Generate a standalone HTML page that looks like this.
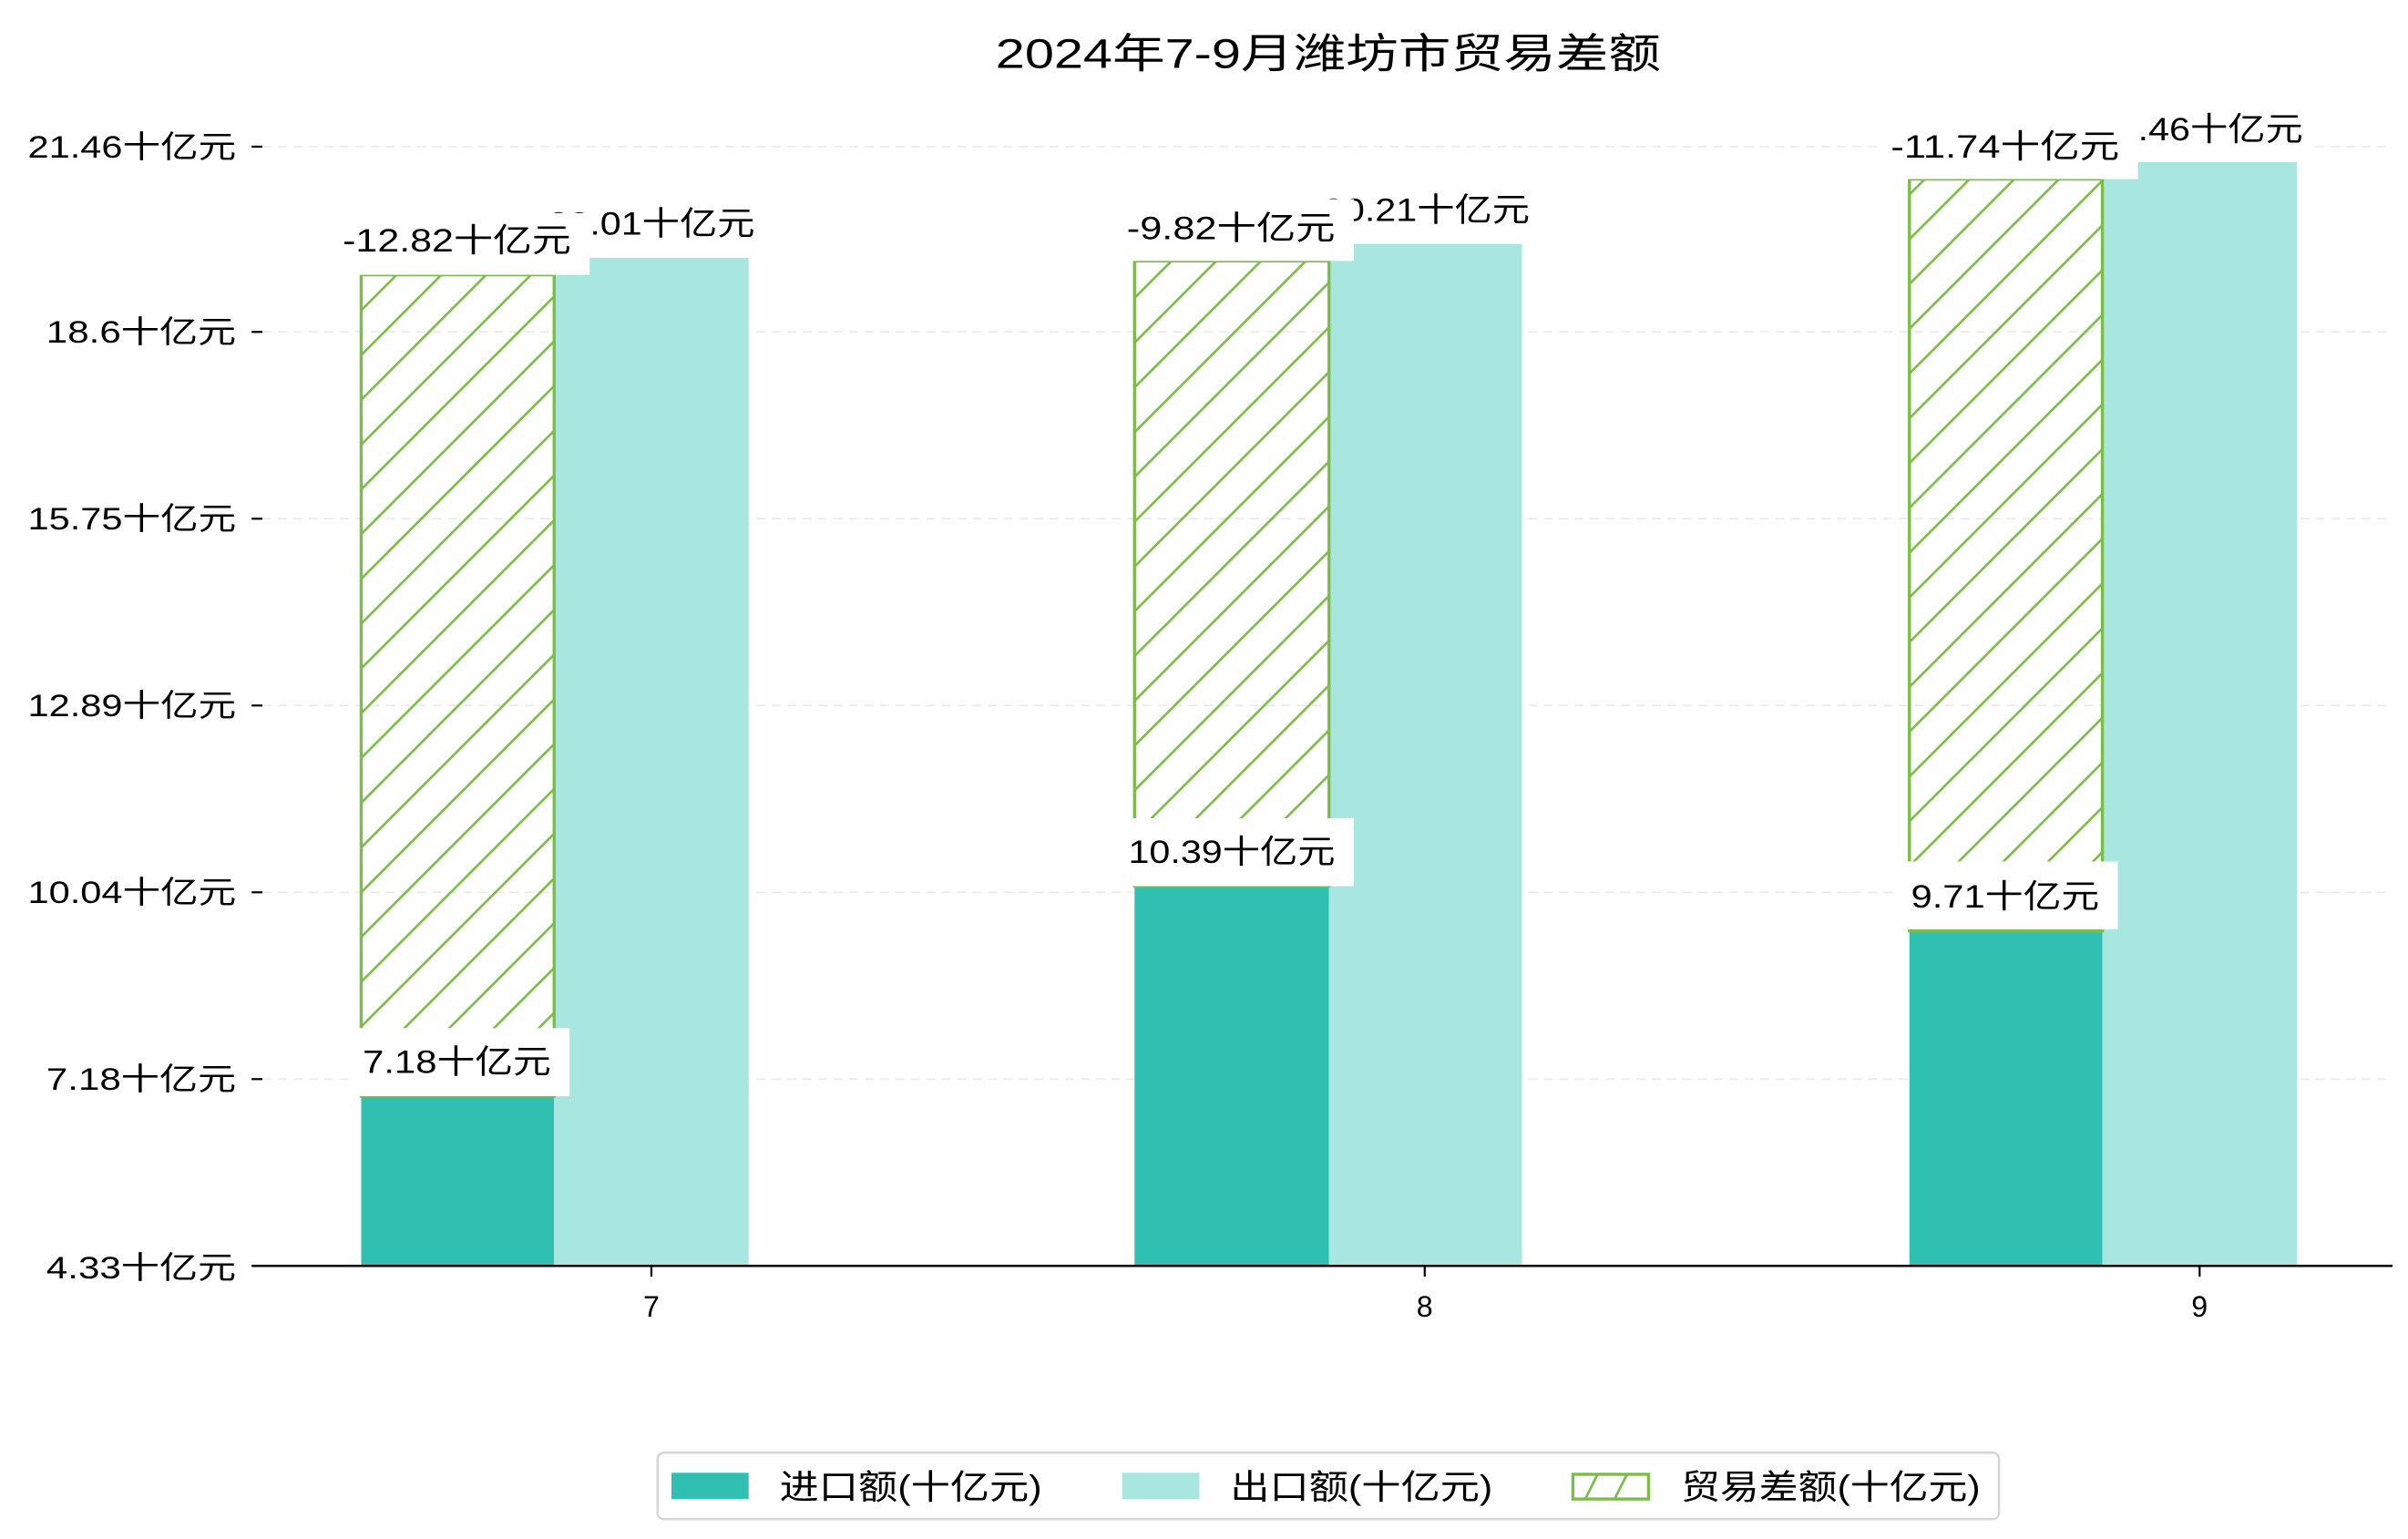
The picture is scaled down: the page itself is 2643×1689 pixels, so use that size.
<!DOCTYPE html>
<html><head><meta charset="utf-8"><style>
html,body{margin:0;padding:0;background:#fff;}
svg{display:block;}
text{font-family:"Liberation Sans","Noto Sans CJK SC",sans-serif;fill:#000;}
</style></head><body>
<svg width="2643" height="1689" viewBox="0 0 1560 996.9" xmlns="http://www.w3.org/2000/svg">
<defs>
<pattern id="h" patternUnits="userSpaceOnUse" width="29" height="29">
<line x1="-2" y1="31" x2="31" y2="-2" stroke="#7bbd47" stroke-width="1.6"/>
<line x1="-10" y1="10" x2="10" y2="-10" stroke="#7bbd47" stroke-width="1.6"/>
<line x1="19" y1="39" x2="39" y2="19" stroke="#7bbd47" stroke-width="1.6"/>
</pattern>
</defs>
<rect width="1560" height="997" fill="#fff"/>
<text x="645" y="44" font-size="27" textLength="431" lengthAdjust="spacingAndGlyphs">2024年7-9月潍坊市贸易差额</text>
<!-- grid -->
<g stroke="#ebebeb" stroke-width="1" stroke-dasharray="6,4">
<line x1="170" y1="95" x2="1550" y2="95"/>
<line x1="170" y1="215" x2="1550" y2="215"/>
<line x1="170" y1="336" x2="1550" y2="336"/>
<line x1="170" y1="457" x2="1550" y2="457"/>
<line x1="170" y1="578" x2="1550" y2="578"/>
<line x1="170" y1="699" x2="1550" y2="699"/>
</g>
<g stroke="#000" stroke-width="1.3">
<line x1="163" y1="95" x2="170" y2="95"/>
<line x1="163" y1="215" x2="170" y2="215"/>
<line x1="163" y1="336" x2="170" y2="336"/>
<line x1="163" y1="457" x2="170" y2="457"/>
<line x1="163" y1="578" x2="170" y2="578"/>
<line x1="163" y1="699" x2="170" y2="699"/>
</g>
<g font-size="20" lengthAdjust="spacingAndGlyphs">
<text x="18" y="102" textLength="135" lengthAdjust="spacingAndGlyphs">21.46十亿元</text>
<text x="30" y="222" textLength="123" lengthAdjust="spacingAndGlyphs">18.6十亿元</text>
<text x="18" y="343" textLength="135" lengthAdjust="spacingAndGlyphs">15.75十亿元</text>
<text x="18" y="464" textLength="135" lengthAdjust="spacingAndGlyphs">12.89十亿元</text>
<text x="18" y="585" textLength="135" lengthAdjust="spacingAndGlyphs">10.04十亿元</text>
<text x="30" y="706" textLength="123" lengthAdjust="spacingAndGlyphs">7.18十亿元</text>
<text x="30" y="828" textLength="123" lengthAdjust="spacingAndGlyphs">4.33十亿元</text>
</g>
<!-- bars -->
<rect x="234" y="710" width="125" height="110" fill="#30c0b2"/>
<rect x="735" y="574" width="126" height="246" fill="#30c0b2"/>
<rect x="1237" y="603" width="125" height="217" fill="#30c0b2"/>
<rect x="359" y="167" width="126" height="653" fill="#a8e6e0"/>
<rect x="861" y="158" width="125" height="662" fill="#a8e6e0"/>
<rect x="1362" y="105" width="126" height="715" fill="#a8e6e0"/>
<g stroke="#7bbd47" stroke-width="2">
<rect x="234" y="178" width="125" height="532" fill="url(#h)"/>
<rect x="735" y="169" width="126" height="405" fill="url(#h)"/>
<rect x="1237" y="116" width="125" height="487" fill="url(#h)"/>
</g>
<!-- export labels -->
<g font-size="21">
<rect x="348" y="124" width="148" height="42" fill="#fff"/>
<text x="355" y="152" textLength="134" lengthAdjust="spacingAndGlyphs">20.01十亿元</text>
<rect x="850" y="115" width="148" height="42" fill="#fff"/>
<text x="857" y="143" textLength="134" lengthAdjust="spacingAndGlyphs">20.21十亿元</text>
<rect x="1351" y="62" width="148" height="42" fill="#fff"/>
<text x="1358" y="91" textLength="134" lengthAdjust="spacingAndGlyphs">21.46十亿元</text>
<!-- diff labels -->
<rect x="218" y="138" width="164" height="40" fill="#fff"/>
<text x="222" y="163" textLength="148" lengthAdjust="spacingAndGlyphs">-12.82十亿元</text>
<rect x="722" y="129" width="155" height="40" fill="#fff"/>
<text x="730" y="155" textLength="135" lengthAdjust="spacingAndGlyphs">-9.82十亿元</text>
<rect x="1220" y="76" width="165" height="40" fill="#fff"/>
<text x="1225" y="102" textLength="148" lengthAdjust="spacingAndGlyphs">-11.74十亿元</text>
<!-- import labels -->
<rect x="226" y="666" width="143" height="44" fill="#fff"/>
<text x="235" y="695" textLength="122" lengthAdjust="spacingAndGlyphs">7.18十亿元</text>
<rect x="724" y="530" width="153" height="44" fill="#fff"/>
<text x="731" y="559" textLength="134" lengthAdjust="spacingAndGlyphs">10.39十亿元</text>
<rect x="1229" y="558" width="143" height="44" fill="#fff"/>
<text x="1238" y="588" textLength="122" lengthAdjust="spacingAndGlyphs">9.71十亿元</text>
</g>
<!-- axis -->
<line x1="163" y1="820" x2="1550" y2="820" stroke="#000" stroke-width="1.5"/>
<g stroke="#000" stroke-width="1.3">
<line x1="422" y1="820" x2="422" y2="827"/>
<line x1="923" y1="820" x2="923" y2="827"/>
<line x1="1425" y1="820" x2="1425" y2="827"/>
</g>
<g font-size="19" text-anchor="middle">
<text x="422" y="853">7</text>
<text x="923" y="853">8</text>
<text x="1425" y="853">9</text>
</g>
<!-- legend -->
<rect x="426" y="941" width="869" height="43" rx="4" fill="#fff" stroke="#d6d6d6" stroke-width="1.5"/>
<rect x="435" y="954" width="50" height="17" fill="#30c0b2"/>
<text x="505" y="971" font-size="22" textLength="170" lengthAdjust="spacingAndGlyphs">进口额(十亿元)</text>
<rect x="727" y="954" width="50" height="17" fill="#a8e6e0"/>
<text x="797" y="971" font-size="22" textLength="170" lengthAdjust="spacingAndGlyphs">出口额(十亿元)</text>
<rect x="1019" y="955" width="49" height="16" fill="#fff" stroke="#7bbd47" stroke-width="2"/>
<line x1="1027" y1="971" x2="1035" y2="955" stroke="#7bbd47" stroke-width="1.6"/>
<line x1="1046" y1="971" x2="1054" y2="955" stroke="#7bbd47" stroke-width="1.6"/>
<text x="1089" y="971" font-size="22" textLength="194" lengthAdjust="spacingAndGlyphs">贸易差额(十亿元)</text>
</svg>
</body></html>
